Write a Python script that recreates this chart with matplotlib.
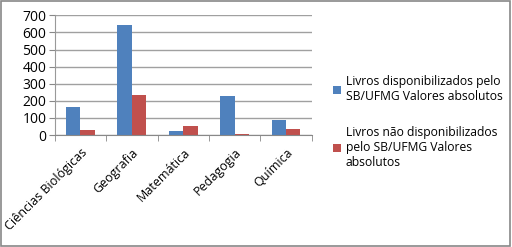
import numpy as np
import matplotlib
matplotlib.use("Agg")
import matplotlib.pyplot as plt
from matplotlib.patches import Rectangle

categories = ["Ciências Biológicas", "Geografia", "Matemática", "Pedagogia", "Química"]
disponiveis = [165, 641, 25, 227, 88]
nao_disponiveis = [31, 232, 52, 6, 34]
labels = ["Livros disponibilizados pelo\nSB/UFMG Valores absolutos",
          "Livros não disponibilizados\npelo SB/UFMG Valores\nabsolutos"]

plt.rcParams['font.family'] = ['Open Sans', 'DejaVu Sans']

fig = plt.figure(figsize=(5.12, 2.47), dpi=100)
ax = fig.add_axes([0.107, 0.453, 0.502, 0.485])

x = np.arange(len(categories))
w = 0.28
b1 = ax.bar(x - w / 2, disponiveis, w, color="#4F81BD", label=labels[0])
b2 = ax.bar(x + w / 2, nao_disponiveis, w, color="#C0504D", label=labels[1])

ax.set_xlim(-0.5, len(categories) - 0.5)
ax.set_ylim(0, 700)
ax.set_yticks(range(0, 701, 100))
ax.yaxis.grid(True, color="#A0A0A0", linewidth=1)
ax.set_axisbelow(True)

ax.set_xticks(x)
ax.set_xticklabels(categories, rotation=45, ha="right", rotation_mode="anchor", fontsize=9)
ax.tick_params(axis="x", length=0, pad=8)
ax.set_xticks(np.arange(-0.5, len(categories)), minor=True)
ax.tick_params(axis="x", which="minor", length=4, color="#888888")
ax.tick_params(axis="y", length=4, color="#888888", labelsize=10, pad=2)

for s in ["top", "right"]:
    ax.spines[s].set_visible(False)
ax.spines["left"].set_color("#999999")
ax.spines["bottom"].set_color("#888888")

fig.legend(handles=[b1, b2], loc="upper left", bbox_to_anchor=(0.63, 0.74),
           frameon=False, fontsize=8.7, handlelength=0.6, handleheight=0.6,
           handletextpad=0.4, labelspacing=1.9)

fig.patches.append(Rectangle((0.002, 0.004), 0.995, 0.99, transform=fig.transFigure,
                             fill=False, edgecolor="#888888", linewidth=1.2))

fig.savefig("out.png", dpi=100)
